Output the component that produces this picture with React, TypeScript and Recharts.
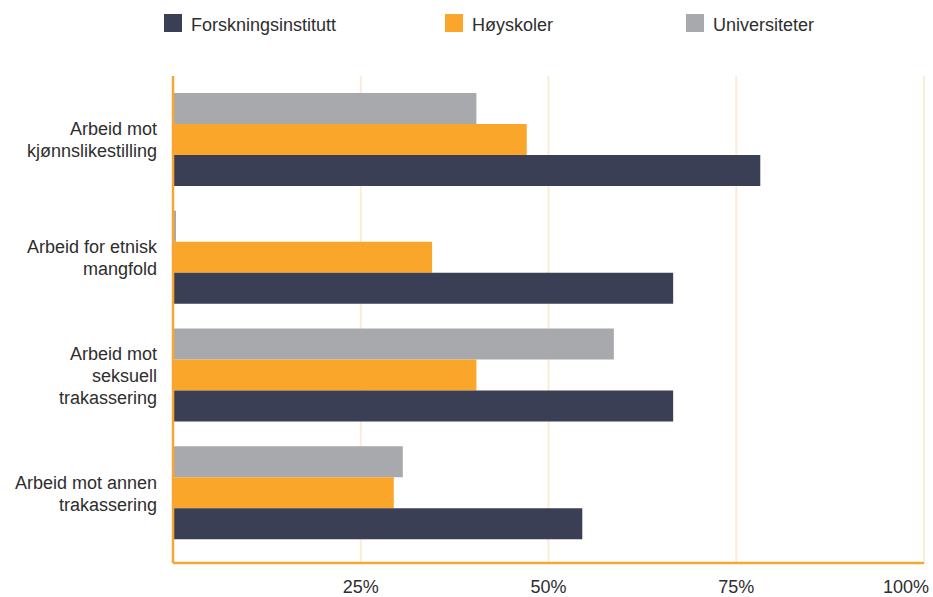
import React from 'react';
import { BarChart, Bar, XAxis, YAxis, CartesianGrid } from 'recharts';

const categories = [
  'Arbeid mot\nkjønnslikestilling',
  'Arbeid for etnisk\nmangfold',
  'Arbeid mot\nseksuell\ntrakassering',
  'Arbeid mot annen\ntrakassering',
];
const universiteter = [40.4, 0.4, 58.7, 30.6];
const hoyskoler = [47.1, 34.5, 40.4, 29.4];
const forskningsinstitutt = [78.2, 66.6, 66.6, 54.5];
const xTicks = [25, 50, 75, 100];

// drawn top to bottom inside each category
const series = [
  { key: 'universiteter', name: 'Universiteter', color: '#a8a9ad' },
  { key: 'hoyskoler', name: 'Høyskoler', color: '#f9a62b' },
  { key: 'forskningsinstitutt', name: 'Forskningsinstitutt', color: '#3b3f56' },
];
// legend reads the other way round
const legendItems = [series[2], series[1], series[0]];
const legendLeft = [164, 445, 686];

const data = categories.map((label, i) => ({
  label,
  universiteter: universiteter[i],
  hoyskoler: hoyskoler[i],
  forskningsinstitutt: forskningsinstitutt[i],
}));

const FONT = '"Liberation Sans", Arial, Helvetica, sans-serif';
const TEXT = '#2e2e2e';
const AXIS = '#f7a633';

const CategoryTick = (props: any) => {
  const { x, y, payload } = props;
  const lines = String(payload.value).split('\n');
  const lh = 22;
  const first = y - ((lines.length - 1) * lh - 13) / 2;
  return (
    <text x={x} y={first} textAnchor="end" fill={TEXT} fontSize={18} fontFamily={FONT}>
      {lines.map((l, i) => (
        <tspan key={i} x={x} y={first + i * lh}>
          {l}
        </tspan>
      ))}
    </text>
  );
};

// last label is pulled in so it stays inside the picture
const PercentTick = (props: any) => {
  const { x, y, payload, index } = props;
  const last = index === xTicks.length - 1;
  return (
    <text
      x={last ? x + 8 : x}
      y={y}
      dy="0.71em"
      textAnchor={last ? 'end' : 'middle'}
      fill={TEXT}
      fontSize={18}
      fontFamily={FONT}
    >
      {`${payload.value}%`}
    </text>
  );
};

const App: React.FC = () => {
  return (
    <div style={{ position: 'relative', width: 933, height: 597, fontFamily: FONT }}>
      <style>{'body { margin: 0; }'}</style>
      {legendItems.map((s, i) => (
        <div
          key={s.key}
          style={{
            position: 'absolute',
            left: legendLeft[i],
            top: 14,
            display: 'flex',
            alignItems: 'center',
            height: 18,
          }}
        >
          <div style={{ width: 18, height: 18, background: s.color, marginRight: 9 }} />
          <span style={{ fontSize: 18, color: TEXT, lineHeight: '18px', position: 'relative', top: 2 }}>
            {s.name}
          </span>
        </div>
      ))}
      <BarChart
        width={933}
        height={597}
        data={data}
        layout="vertical"
        barGap={0}
        barSize={31}
        margin={{ top: 76, right: 9, bottom: 0, left: 0 }}
      >
        <CartesianGrid horizontal={false} stroke="#fcecd6" strokeWidth={2} />
        <XAxis
          type="number"
          domain={[0, 100]}
          ticks={xTicks}
          axisLine={{ stroke: AXIS, strokeWidth: 2.5 }}
          tickLine={false}
          tickSize={0}
          tickMargin={17}
          height={34}
          tick={<PercentTick />}
        />
        <YAxis
          type="category"
          dataKey="label"
          width={173}
          axisLine={{ stroke: AXIS, strokeWidth: 2.5 }}
          tickLine={false}
          tickSize={0}
          tickMargin={16}
          padding={{ top: 5, bottom: 11 }}
          tick={<CategoryTick />}
          interval={0}
        />
        {series.map((s) => (
          <Bar
            key={s.key}
            dataKey={s.key}
            name={s.name}
            fill={s.color}
            isAnimationActive={false}
          />
        ))}
      </BarChart>
    </div>
  );
};

export default App;
